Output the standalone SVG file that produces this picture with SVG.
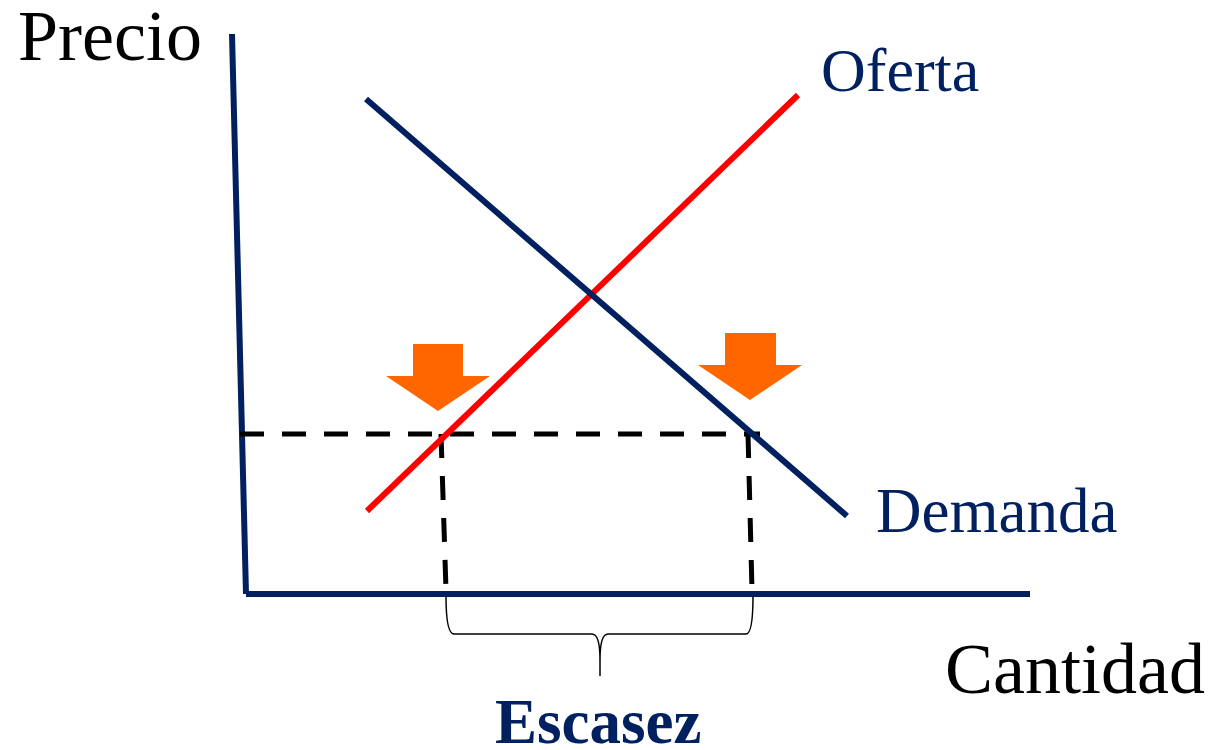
<svg xmlns="http://www.w3.org/2000/svg" width="1212" height="750" viewBox="0 0 1212 750">
<style>
.serif{font-family:"Liberation Serif","Times New Roman",serif}
.navy{fill:#002060}
.axis{stroke:#002060;stroke-width:6;fill:none}
.dash{stroke:#000;stroke-width:5;stroke-dasharray:24 18;fill:none}
.arrow{fill:#FF6600}
</style>
<rect width="1212" height="750" fill="#fff"/>
<g id="axes">
<line class="axis" x1="232" y1="34" x2="246" y2="594"/>
<line class="axis" x1="246" y1="594" x2="1030" y2="594"/>
</g>
<g id="connectors">
<line class="dash" x1="240" y1="434" x2="760" y2="434"/>
<line class="dash" x1="441" y1="434" x2="446" y2="590"/>
<line class="dash" x1="748" y1="434" x2="752" y2="590"/>
</g>
<g id="oferta-line"><line x1="367" y1="511" x2="798" y2="95" stroke="#FF0000" stroke-width="6"/></g>
<g id="demanda-line"><line x1="366" y1="99" x2="847" y2="516" stroke="#002060" stroke-width="6"/></g>
<g id="arrow-left"><polygon class="arrow" points="413,344 463,344 463,376 490,376 438,411 386,376 413,376"/></g>
<g id="arrow-right"><polygon class="arrow" points="725,333 776,333 776,365 802,365 750,400 698,365 725,365"/></g>
<g id="brace"><path d="M446,596 Q446,634 454,634 L592,634 Q600,634 600,660 L600,676 M600,660 Q600,634 608,634 L746,634 Q753,634 753,596" fill="none" stroke="#000" stroke-width="1.5"/></g>
<g id="labels">
<text class="serif" x="18" y="60" font-size="72" fill="#000">Precio</text>
<text class="serif navy" x="821" y="91" font-size="62">Oferta</text>
<text class="serif navy" x="876" y="532" font-size="63">Demanda</text>
<text class="serif" x="945" y="693" font-size="72" fill="#000">Cantidad</text>
<text class="serif navy" x="495" y="743" font-size="63" font-weight="bold">Escasez</text>
</g>
</svg>
